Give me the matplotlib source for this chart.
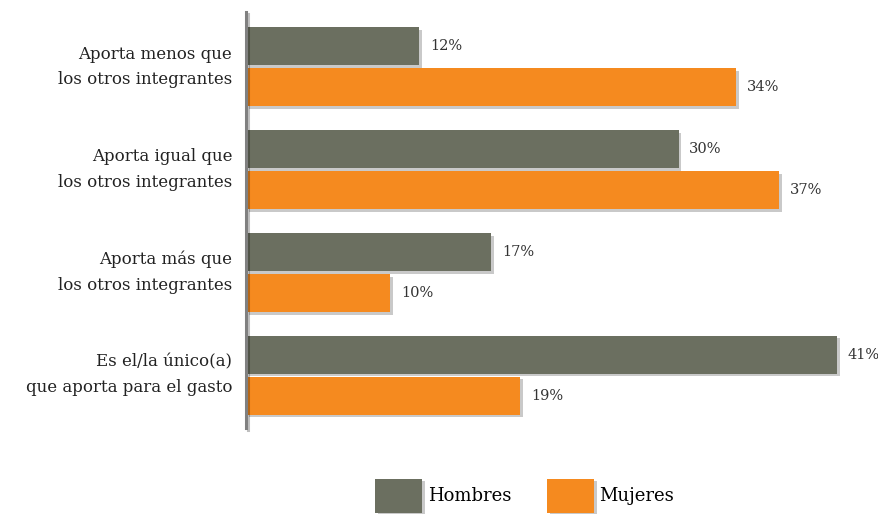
import matplotlib
matplotlib.use('Agg')
import matplotlib.pyplot as plt
import matplotlib.patheffects as pe
import numpy as np

categorias = [
    "Aporta menos que\nlos otros integrantes",
    "Aporta igual que\nlos otros integrantes",
    "Aporta más que\nlos otros integrantes",
    "Es el/la único(a)\nque aporta para el gasto",
]
hombres = [12, 30, 17, 41]
mujeres = [34, 37, 10, 19]

color_h = "#6b6f60"
color_m = "#f58a1f"
sombra = [pe.SimplePatchShadow(offset=(2, -2), shadow_rgbFace="#666666", alpha=0.35), pe.Normal()]

plt.rcParams['font.family'] = ['DejaVu Serif']

fig = plt.figure(figsize=(8.79, 5.14), dpi=100)
ax = fig.add_axes([246 / 879, 1 - 428 / 514, (866 - 246) / 879, 416 / 514])

y = np.arange(len(categorias))
alto = 0.37
off = 0.2
bh = ax.barh(y - off, hombres, height=alto, color=color_h, label="Hombres", path_effects=sombra)
bm = ax.barh(y + off, mujeres, height=alto, color=color_m, label="Mujeres", path_effects=sombra)

for barras, vals in ((bh, hombres), (bm, mujeres)):
    for b, v in zip(barras, vals):
        ax.text(v + 0.75, b.get_y() + b.get_height() / 2, f"{v}%",
                va="center", ha="left", fontsize=10.5, color="#333333")

ax.set_xlim(0, 43)
ax.set_ylim(3.515, -0.534)
ax.set_yticks(y)
ax.set_yticklabels(categorias, fontsize=12, color="#222222", linespacing=1.65)
ax.tick_params(axis="y", length=0, pad=10)
ax.set_xticks([])
for s in ("top", "right", "bottom"):
    ax.spines[s].set_visible(False)
ax.spines["left"].set_color("#808080")
ax.spines["left"].set_linewidth(2.2)
ax.spines["left"].set_path_effects([pe.SimpleLineShadow(offset=(1.5, -1.5), alpha=0.25), pe.Normal()])
for lbl in ax.get_yticklabels():
    lbl.set_horizontalalignment("right")
    lbl.set_verticalalignment("center")

leg = fig.legend(handles=[bh, bm], loc="center", bbox_to_anchor=(0.597, 0.035),
                 ncol=2, frameon=False, fontsize=13, handlelength=2.6, handleheight=2.6,
                 handletextpad=0.3, columnspacing=2.0)

fig.savefig("out.png", dpi=100)
